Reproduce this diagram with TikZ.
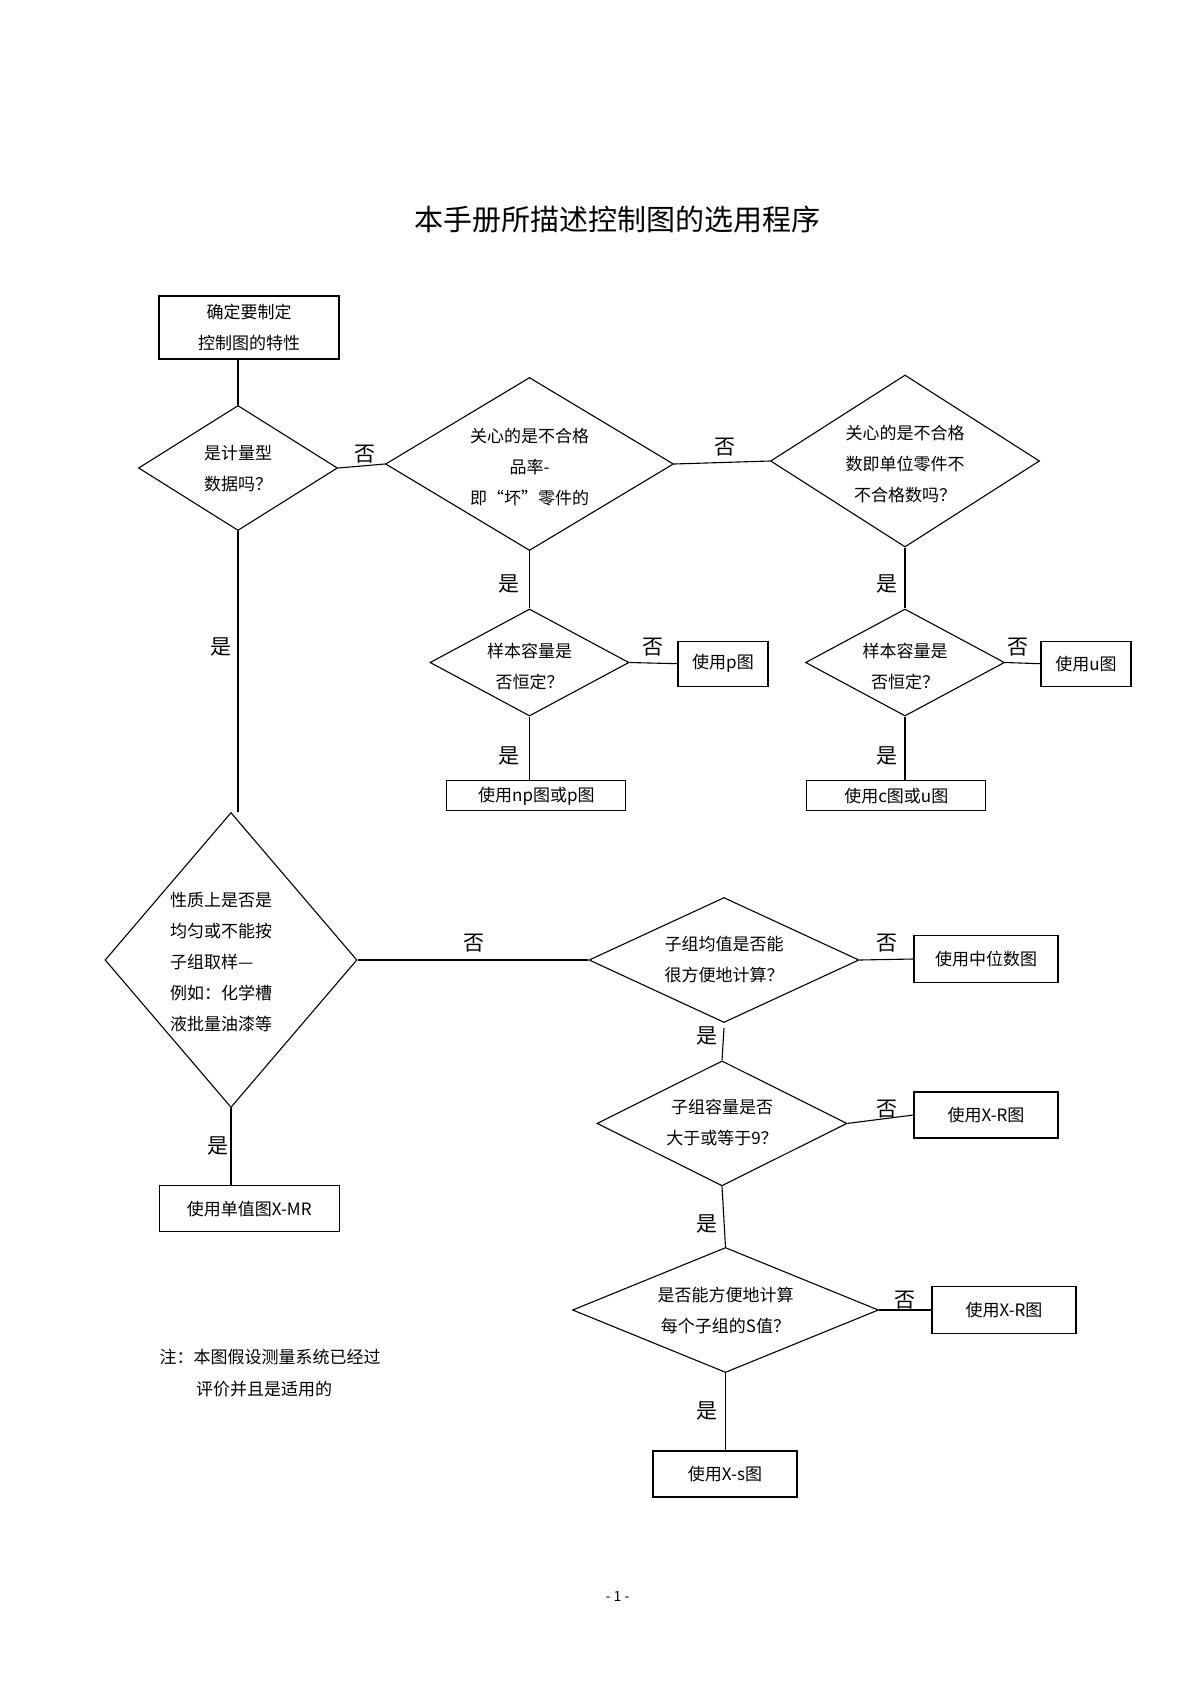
\documentclass[tikz,border=0pt]{standalone}
\usepackage{fontspec}
\setmainfont{Noto Sans CJK SC}
\usetikzlibrary{shapes.geometric}
\begin{document}
\begin{tikzpicture}[x=1pt,y=-1pt,line width=1.1pt,
  dia/.style={draw,diamond,inner sep=0pt,line width=1.1pt},
  box/.style={draw,rectangle,inner sep=0pt,line width=1.1pt,font=\fontsize{17}{31}\selectfont,align=center},
  txt/.style={inner sep=0pt,font=\fontsize{17}{31}\selectfont,align=center},
  lbl/.style={inner sep=0pt,font=\fontsize{21}{21}\selectfont},
  conn/.style={draw,line width=1.1pt}]
\useasboundingbox (0,0) rectangle (1190,1684);
\fill[white] (0,0) rectangle (1190,1684);

% title
\node[inner sep=0pt,font=\fontsize{29}{29}\selectfont] (title) at (617.6,219) {本手册所描述控制图的选用程序};

% boxes
\node[box,minimum width=180pt,minimum height=63pt] (box1) at (249,327.5) {确定要制定\\控制图的特性};
\node[box,minimum width=90pt,minimum height=45pt] (boxp) at (723,663.7) {使用p图};
\node[box,minimum width=179pt,minimum height=30pt] (boxnp) at (536.4,795.9) {使用np图或p图};
\node[box,minimum width=90pt,minimum height=45pt] (boxu) at (1086,663.7) {使用u图};
\node[box,minimum width=179pt,minimum height=30pt] (boxcu) at (896.3,795.9) {使用c图或u图};
\node[box,minimum width=180pt,minimum height=46pt] (boxmr) at (249.2,1208.9) {使用单值图X-MR};
\node[box,minimum width=144pt,minimum height=47pt] (boxmed) at (986,959) {使用中位数图};
\node[box,minimum width=144pt,minimum height=46pt] (boxxr1) at (986,1115) {使用X-R图};
\node[box,minimum width=144pt,minimum height=47pt] (boxxr2) at (1004,1310) {使用X-R图};
\node[box,minimum width=144pt,minimum height=46pt] (boxxs) at (725,1474) {使用X-s图};

% diamonds
\node[dia,minimum width=199pt,minimum height=125pt] (d1) at (238,468) {};
\node[txt] (d1t) at (238,468.5) {是计量型\\数据吗？};
\node[dia,minimum width=288pt,minimum height=173pt] (d2) at (529.5,464) {};
\node[txt] (d2t) at (529.5,467.5) {关心的是不合格\\品率-\\即“坏”零件的};
\node[dia,minimum width=269pt,minimum height=172pt] (d3) at (905,461) {};
\node[txt] (d3t) at (905,464) {关心的是不合格\\数即单位零件不\\不合格数吗？};
\node[dia,minimum width=199pt,minimum height=107pt] (d4) at (529.5,662.5) {};
\node[txt] (d4t) at (529.5,666) {样本容量是\\否恒定？};
\node[dia,minimum width=199pt,minimum height=107pt] (d5) at (905,662.5) {};
\node[txt] (d5t) at (905,666) {样本容量是\\否恒定？};
\node[dia,minimum width=252pt,minimum height=295pt] (d6) at (231,960) {};
\node[txt,align=left] (d6t) at (221,962.5) {性质上是否是\\均匀或不能按\\子组取样—\\例如：化学槽\\液批量油漆等};
\node[dia,minimum width=270pt,minimum height=125pt] (d7) at (724,960) {};
\node[txt] (d7t) at (724,960) {子组均值是否能\\很方便地计算？};
\node[dia,minimum width=250pt,minimum height=125pt] (d8) at (722,1123.4) {};
\node[txt] (d8t) at (722,1122) {子组容量是否\\大于或等于9？};
\node[dia,minimum width=306pt,minimum height=125pt] (d9) at (725.5,1310) {};
\node[txt] (d9t) at (725.5,1310) {是否能方便地计算\\每个子组的S值？};

% connectors
\draw[conn] (d1.north |- box1.south) -- (d1.north);
\draw[conn] (d1.east) -- (d2.west);
\draw[conn] (d2.east) -- (d3.west);
\draw[conn] (d2.south) -- (d4.north);
\draw[conn] (d4.east) -- (boxp.west);
\draw[conn] (d4.south) -- (d4.south |- boxnp.north);
\draw[conn] (d3.south) -- (d5.north);
\draw[conn] (d5.east) -- (boxu.west);
\draw[conn] (d5.south) -- (d5.south |- boxcu.north);
\draw[conn] (d1.south) -- (d1.south |- d6.north);
\draw[conn] (d6.south) -- (d6.south |- boxmr.north);
\draw[conn] (d6.east) -- (d7.west);
\draw[conn] (d7.east) -- (boxmed.west);
\draw[conn] ([yshift=-5pt]d7.south) -- (d8.north);
\draw[conn] (d8.east) -- (boxxr1.west);
\draw[conn] (d8.south) -- (d9.north);
\draw[conn] (d9.east) -- (boxxr2.west);
\draw[conn] (d9.south) -- (d9.south |- boxxs.north);

% labels
\node[lbl] (l1) at (365,454) {否};
\node[lbl] (l2) at (725,447) {否};
\node[lbl] (l3) at (509,584) {是};
\node[lbl] (l4) at (653,647) {否};
\node[lbl] (l5) at (509,756) {是};
\node[lbl] (l6) at (887,584) {是};
\node[lbl] (l7) at (1018,647) {否};
\node[lbl] (l8) at (887,756) {是};
\node[lbl] (l9) at (221,646.5) {是};
\node[lbl] (l10) at (218,1146) {是};
\node[lbl] (l11) at (473.6,943) {否};
\node[lbl] (l12) at (887,943) {否};
\node[lbl] (l13) at (707,1036) {是};
\node[lbl] (l14) at (887,1109) {否};
\node[lbl] (l15) at (707,1224) {是};
\node[lbl] (l16) at (905.4,1300) {否};
\node[lbl] (l17) at (707,1411) {是};

% note
\node[txt,anchor=west] (note1) at (159,1357.5) {注：本图假设测量系统已经过};
\node[txt,anchor=west] (note2) at (195.5,1389) {评价并且是适用的};

% page number
\node[inner sep=0pt,font=\fontsize{14}{14}\selectfont] (page) at (617.6,1596) {- 1 -};
\end{tikzpicture}
\end{document}
